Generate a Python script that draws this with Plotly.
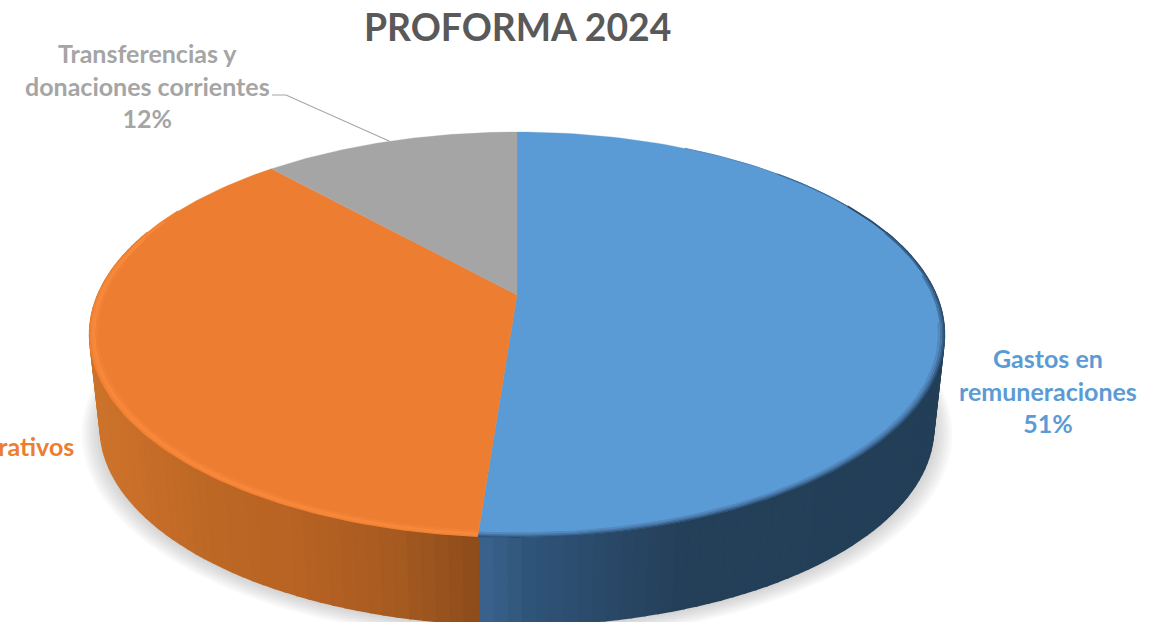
import numpy as np
import plotly.graph_objects as go

# ---- chart data ----
categories = ["Gastos en remuneraciones", "Gastos administrativos", "Transferencias y donaciones corrientes"]
values = [51.2, 37.1, 11.7]
top_colors = ["#5B9BD5", "#ED7D31", "#A5A5A5"]
title_text = "PROFORMA 2024"

# ---- projection of the tilted pie ----
CX, CY = 517.0, 295.0
A, B, K = 419.0, 194.8, 0.195
DEPTH, SHRINK = 94.0, 0.975


def proj(theta_deg, r=1.0, depth=0.0, scale=1.0):
    t = np.radians(np.asarray(theta_deg, dtype=float))
    u, v = r * np.sin(t), r * np.cos(t)
    den = 1 + K * v
    x = CX + scale * A * u / den
    y = CY - scale * B * v / den + depth
    return x, y


def hexrgb(h):
    return np.array([int(h[i:i + 2], 16) for i in (1, 3, 5)], dtype=float)


def ramp(x, xs, cols):
    arr = np.array([hexrgb(c) for c in cols])
    rgb = [np.interp(x, xs, arr[:, i]) for i in range(3)]
    return "rgb(%d,%d,%d)" % tuple(int(round(c)) for c in rgb)


fig = go.Figure()


def poly(xs, ys, color, lw=0.0):
    fig.add_trace(go.Scatter(x=list(xs), y=list(ys), mode="lines", fill="toself", fillcolor=color,
                             line=dict(color=color, width=lw), hoverinfo="skip", showlegend=False))


def line(xs, ys, color, w):
    fig.add_trace(go.Scatter(x=list(xs), y=list(ys), mode="lines", line=dict(color=color, width=w),
                             hoverinfo="skip", showlegend=False))


# wedge boundaries, clockwise from 12 o'clock
edges = np.cumsum([0] + values) * 3.6
seam = edges[1]

# soft shadow below the pie
full = np.linspace(0, 360, 241)
for i in range(9):
    grow = 1.045 - i * 0.006
    sx, sy = proj(full, depth=DEPTH + 5 - i * 0.5, scale=SHRINK * grow)
    poly(sx, sy, "rgba(120,120,125,0.045)")

# side wall as shaded strips
blue_x = [480, 530, 600, 680, 950]
blue_c = ["#3A628D", "#2F5478", "#2A4A6A", "#243F58", "#233F58"]
orange_x = [90, 130, 200, 300, 400, 480]
orange_c = ["#CC732B", "#C96F2A", "#BE6825", "#B86224", "#A55A20", "#8C4B1A"]

for lo, hi, xs_, cs_ in [(70, seam, blue_x, blue_c), (290, seam, orange_x, orange_c)]:
    th = np.linspace(lo, hi, int(abs(hi - lo) / 1.6) + 2)
    for a, b in zip(th[:-1], th[1:]):
        seg = np.linspace(a, b, 3)
        x1, y1 = proj(seg)
        x2, y2 = proj(seg[::-1], depth=DEPTH, scale=SHRINK)
        mid = proj((a + b) / 2)[0]
        poly(np.r_[x1, x2, x1[0]], np.r_[y1, y2, y1[0]], ramp(mid, xs_, cs_), lw=2.0)

# top faces
for i, c in enumerate(top_colors):
    th = np.linspace(edges[i], edges[i + 1], 120)
    ex, ey = proj(th)
    poly(np.r_[CX, ex, CX], np.r_[CY, ey, CY], c, lw=0.3)

# bevel: blue rim darkens, orange rim catches the light
for r, start, col, w in [(1.0, 28, "#5288BE", 1.0), (1.0, 45, "#3F6C99", 1.2), (1.0, 60, "#2B4D6E", 1.8),
                         (0.997, 70, "#38608A", 1.8), (0.993, 84, "#4675A5", 2.0), (0.988, 98, "#5288BE", 2.0)]:
    arc = np.linspace(start, seam, 120)
    bx, by = proj(arc, r=r)
    line(bx, by, col, w)
for r, col, w, end in [(1.0, "#F1802F", 1.5, 298), (0.995, "#F5863A", 2.5, 294),
                       (0.990, "#F8893A", 2.5, 288), (0.984, "#F18137", 2.5, 280)]:
    arc = np.linspace(seam, end, 120)
    ox, oy = proj(arc, r=r)
    line(ox, oy, col, w)

# leader from the grey wedge to its label
gx, gy = proj((edges[2] + edges[3]) / 2)
LEADER_X0, LEADER_X1, LEADER_Y = 272, 286, 95
line([LEADER_X0, LEADER_X1, float(gx)], [LEADER_Y, LEADER_Y, float(gy)], "#A6A6A6", 1.1)

FONT = "Lato"


def label(text, x, y, color, size, xanchor="center"):
    fig.add_annotation(x=x, y=y, text=text, xref="x", yref="y", showarrow=False, xanchor=xanchor,
                       yanchor="middle", align="center", font=dict(family=FONT, size=size, color=color))


label("<b>%s</b>" % title_text, 517, 26, "#595959", 37.3)
label("<b>Transferencias y<br>donaciones corrientes<br>%.0f%%</b>" % values[2], 147, 85, "#A5A5A5", 25)
label("<b>Gastos en<br>remuneraciones<br>%.0f%%</b>" % values[0], 1048, 390, "#5B9BD5", 25)
label("<b>Gastos administrativos<br>%.0f%%</b>" % values[1], 76, 462, "#ED7D31", 25, xanchor="right")

fig.update_layout(
    width=1158, height=622, margin=dict(l=0, r=0, t=0, b=0),
    paper_bgcolor="white", plot_bgcolor="white", showlegend=False,
    xaxis=dict(range=[0, 1158], visible=False, fixedrange=True),
    yaxis=dict(range=[622, 0], visible=False, fixedrange=True),
)
fig.write_html("out.html", config={"displayModeBar": False},
               post_script="document.body.style.margin='0';document.documentElement.style.overflow='hidden';")
